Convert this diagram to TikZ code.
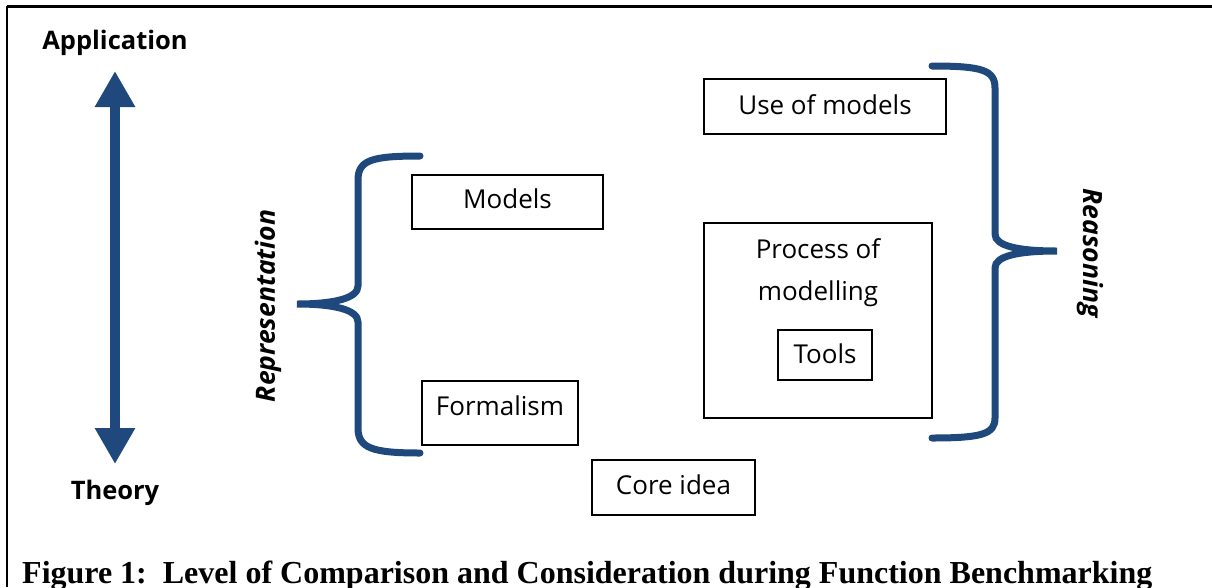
\documentclass[tikz,border=0pt]{standalone}
\usepackage{fontspec}
\setmainfont{Liberation Serif}
\newfontfamily\boxfont{Open Sans}
\usetikzlibrary{arrows.meta}
\definecolor{bracecol}{RGB}{31,73,125}
\begin{document}
\begin{tikzpicture}[x=1pt,y=-1pt,
  box/.style={draw=black,line width=1.3pt,inner sep=0pt,font=\boxfont\fontsize{26}{30}\selectfont},
  txt/.style={font=\boxfont\fontsize{26}{30}\selectfont},
  lbl/.style={font=\boxfont\bfseries\fontsize{25.5}{30}\selectfont},
  rlbl/.style={font=\boxfont\bfseries\itshape\fontsize{26.5}{30}\selectfont},
  bracestyle/.style={draw=bracecol,line width=7pt,line cap=round}]
\useasboundingbox (0,0) rectangle (1212,587);
% frame
\draw[line width=3pt] (7,6.5) -- (1212,6.5);
\draw[line width=2pt] (7,6) -- (7,587);
% labels
\node[lbl] (app) at (115,43) {Application};
\node[lbl] (theory) at (115,493) {Theory};
% double arrow
\coordinate (atop) at (115,71);
\coordinate (abot) at (115,464);
\draw[bracecol,line width=10pt,{Triangle[width=38pt,length=36pt]}-{Triangle[width=38pt,length=36pt]}] (atop) -- (abot);
% boxes
\node[box,minimum width=191pt,minimum height=54pt] (models) at (507.5,202) {};
\node[txt] (modtxt) at (507.5,199) {Models};
\node[box,minimum width=156pt,minimum height=64pt] (formalism) at (500,413) {};
\node[txt] (formtxt) at (500,406) {Formalism};
\node[box,minimum width=163pt,minimum height=55pt] (core) at (673.5,487.5) {};
\node[txt] (coretxt) at (673.5,485) {Core idea};
\node[box,minimum width=242pt,minimum height=55pt] (use) at (825,106.5) {};
\node[txt] (usetxt) at (825,105) {Use of models};
\node[box,minimum width=228pt,minimum height=195pt] (process) at (818,320.5) {};
\node[txt] (proc1) at (818,249) {Process of};
\node[txt] (proc2) at (818,294) {modelling};
\node[box,minimum width=94pt,minimum height=50pt] (tools) at (825,355) {};
\node[txt] (tooltxt) at (825,354) {Tools};
% braces
\coordinate (lbt) at (420,156);
\coordinate (lbc) at (297,304);
\coordinate (lbb) at (420,453);
\draw[bracestyle] (lbt) .. controls (372,156) and (358,160) .. (358,180) -- (358,286)
  .. controls (358,298) and (335,304) .. (lbc)
  .. controls (335,304) and (358,310) .. (358,322) -- (358,428)
  .. controls (358,448) and (372,453) .. (lbb);
\coordinate (rbt) at (932,66);
\coordinate (rbc) at (1057,251);
\coordinate (rbb) at (932,438);
\draw[bracestyle] (rbt) .. controls (982,66) and (995,70) .. (995,88) -- (995,234)
  .. controls (995,246) and (1018,251) .. (rbc)
  .. controls (1018,251) and (995,256) .. (995,268) -- (995,418)
  .. controls (995,434) and (982,438) .. (rbb);
\node[rlbl,rotate=90] (rep) at (268,306) {Representation};
\node[rlbl,rotate=-90] (reas) at (1090,253) {Reasoning};
% caption
\node[anchor=base west,font=\bfseries\fontsize{32}{36}\selectfont,inner sep=0pt] (cap) at (22,583) {Figure 1:\ \ Level of Comparison and Consideration during Function Benchmarking};
\end{tikzpicture}
\end{document}
